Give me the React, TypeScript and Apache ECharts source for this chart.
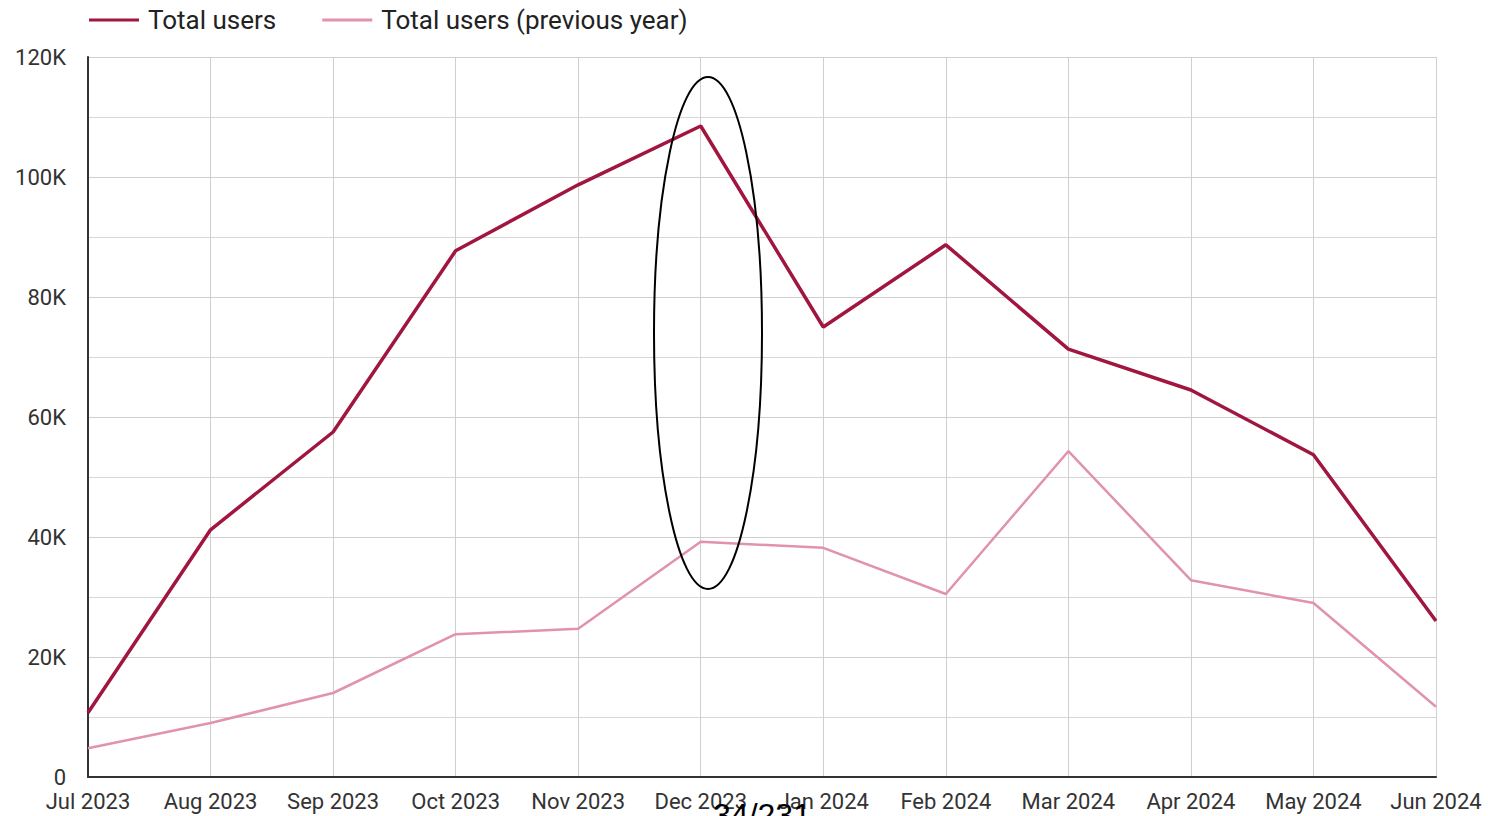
import React, { useEffect, useRef } from "react";
import * as echarts from "echarts";

const months = ["Jul 2023", "Aug 2023", "Sep 2023", "Oct 2023", "Nov 2023", "Dec 2023", "Jan 2024", "Feb 2024", "Mar 2024", "Apr 2024", "May 2024", "Jun 2024"];
const totalUsers = [10700, 41200, 57500, 87700, 98700, 108500, 75000, 88700, 71300, 64500, 53700, 26000];
const totalUsersPrev = [4800, 9000, 14000, 23800, 24700, 39200, 38200, 30500, 54300, 32800, 29000, 11700];
const yTicks = [0, 20000, 40000, 60000, 80000, 100000, 120000];
const seriesNames = ["Total users", "Total users (previous year)"];
const pageLabel = "34/231";

export default function App() {
  const ref = useRef<HTMLDivElement>(null);
  useEffect(() => {
    if (!ref.current) return;
    const chart = echarts.init(ref.current, null, { renderer: "svg" });
    const font = "Roboto, 'Noto Sans', sans-serif";
    chart.setOption({
      animation: false,
      backgroundColor: "#ffffff",
      textStyle: { fontFamily: font },
      legend: {
        left: 84,
        top: 2,
        itemWidth: 50,
        itemHeight: 3,
        itemGap: 46,
        icon: "rect",
        textStyle: { fontSize: 26, color: "#222", fontFamily: font, padding: [0, 0, 0, 4] },
        data: seriesNames,
      },
      grid: { left: 88, right: 52, top: 57, bottom: 39, containLabel: false },
      xAxis: {
        type: "category",
        data: months,
        boundaryGap: false,
        axisLine: { show: true, lineStyle: { color: "#333", width: 2 } },
        axisTick: { show: false },
        axisLabel: { fontSize: 22, color: "#333", margin: 13, fontFamily: font, interval: 0 },
        splitLine: { show: true, lineStyle: { color: "#cfcfcf", width: 1 } },
      },
      yAxis: {
        type: "value",
        min: yTicks[0],
        max: yTicks[yTicks.length - 1],
        interval: 20000,
        axisLine: { show: true, lineStyle: { color: "#333", width: 2 } },
        axisTick: { show: false },
        axisLabel: {
          fontSize: 22,
          color: "#333",
          margin: 22,
          fontFamily: font,
          formatter: (v: number) => (v === 0 ? "0" : v / 1000 + "K"),
        },
        splitLine: { show: true, lineStyle: { color: "#cfcfcf", width: 1 } },
        minorTick: { show: false, splitNumber: 2 },
        minorSplitLine: { show: true, lineStyle: { color: "#d6d6d6", width: 1 } },
      },
      series: [
        {
          name: seriesNames[0],
          type: "line",
          data: totalUsers,
          symbol: "none",
          lineStyle: { color: "#a0163f", width: 3.5 },
          itemStyle: { color: "#a0163f" },
          z: 3,
        },
        {
          name: seriesNames[1],
          type: "line",
          data: totalUsersPrev,
          symbol: "none",
          lineStyle: { color: "#e093aa", width: 2.5 },
          itemStyle: { color: "#e093aa" },
          z: 2,
        },
      ],
      graphic: [
        {
          type: "ellipse",
          shape: { cx: 708, cy: 333, rx: 54, ry: 256 },
          style: { fill: "none", stroke: "#000", lineWidth: 2 },
          z: 100,
        },
        {
          type: "text",
          x: 762,
          y: 799,
          style: { text: pageLabel, fontSize: 32, fill: "#000", fontFamily: "Arial, 'Liberation Sans', sans-serif", align: "center", verticalAlign: "top" },
          z: 100,
        },
      ],
    });
    return () => chart.dispose();
  }, []);
  return <div ref={ref} style={{ position: "absolute", left: 0, top: 0, width: 1488, height: 816 }} />;
}
